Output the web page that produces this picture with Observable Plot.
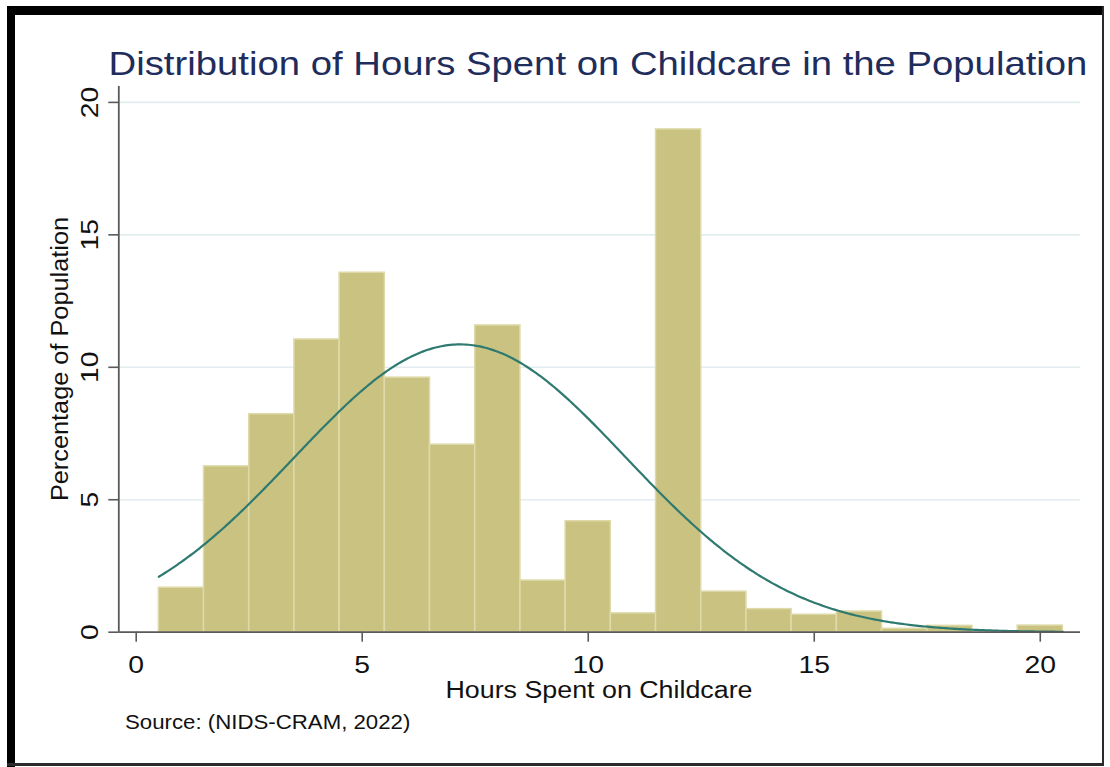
<!DOCTYPE html>
<html>
<head>
<meta charset="utf-8">
<script src="https://cdn.jsdelivr.net/npm/d3@7"></script>
<script src="https://cdn.jsdelivr.net/npm/@observablehq/plot@0.6"></script>
<style>
  html, body { margin: 0; padding: 0; background: #ffffff; }
  #wrap { position: relative; width: 1110px; height: 767px; overflow: hidden;
          font-family: "Liberation Sans", Arial, Helvetica, sans-serif; }
  #chart { position: absolute; left: 0; top: 0; }
  .txt { position: absolute; white-space: nowrap; }
  #title { left: 598px; top: 47px; font-size: 33px; line-height: 33px; color: #1f2d5c;
           transform: translate(-50%, 0) scaleX(1.16); }
  #xtitle { left: 598.5px; top: 679px; font-size: 23px; line-height: 23px; color: #111;
            transform: translate(-50%, 0) scaleX(1.166); }
  #ytitle { left: 60px; top: 358.6px; font-size: 23px; line-height: 23px; color: #111;
            transform: translate(-50%, -50%) rotate(-90deg) scaleX(1.10); }
  #source { left: 125px; top: 713px; font-size: 19.5px; line-height: 19.5px; color: #111;
            transform-origin: left center; transform: scaleX(1.14); }
  .edge { position: absolute; }
</style>
</head>
<body>
<div id="wrap">
  <div id="chart"></div>
  <div class="txt" id="title">Distribution of Hours Spent on Childcare in the Population</div>
  <div class="txt" id="ytitle">Percentage of Population</div>
  <div class="txt" id="xtitle">Hours Spent on Childcare</div>
  <div class="txt" id="source">Source: (NIDS-CRAM, 2022)</div>
  <div class="edge" style="left:7px;top:6px;width:1097px;height:9px;background:#000"></div>
  <div class="edge" style="left:7px;top:6px;width:8px;height:761px;background:#000"></div>
  <div class="edge" style="left:1102px;top:6px;width:2px;height:759px;background:#2b2b2b"></div>
  <div class="edge" style="left:7px;top:763px;width:1097px;height:3px;background:#2b2b2b"></div>
</div>
<script>
// Histogram of weekly childcare hours: one-hour bins centred on each whole hour
const hours   = [1, 2, 3, 4, 5, 6, 7, 8, 9, 10, 11, 12, 13, 14, 15, 16, 17, 18, 19, 20];
const percent = [1.68, 6.26, 8.23, 11.05, 13.57, 9.61, 7.08, 11.58, 1.95, 4.19,
                 0.71, 18.98, 1.53, 0.87, 0.66, 0.78, 0.13, 0.24, 0, 0.25];
const xTicks = [0, 5, 10, 15, 20];
const yTicks = [0, 5, 10, 15, 20];
const binWidth = 1;

const bins = hours.map((h, i) => ({hours: h, pct: percent[i]}));

// Normal density with the same mean and spread as the histogram, scaled to percent per bin
const total = d3.sum(percent);
const mean = d3.sum(bins, d => d.hours * d.pct) / total;
const sd = Math.sqrt(d3.sum(bins, d => d.pct * (d.hours - mean) ** 2) / total);
const lo = hours[0] - binWidth / 2, hi = hours[hours.length - 1] + binWidth / 2;
const normal = d3.range(lo, hi + 1e-9, 0.05).map(x => ({
  x,
  y: 100 * binWidth * Math.exp(-0.5 * ((x - mean) / sd) ** 2) / (sd * Math.sqrt(2 * Math.PI))
}));

const xDomain = [-0.385, 20.89];
const axisColor = "#595959";

const chart = Plot.plot({
  width: 1110,
  height: 767,
  marginLeft: 118.3,
  marginRight: 30,
  marginTop: 86,
  marginBottom: 135.3,
  x: {domain: xDomain},
  y: {domain: [0, 20.6]},
  style: {fontFamily: '"Liberation Sans", Arial, Helvetica, sans-serif', background: "transparent", color: "#111", overflow: "visible"},
  marks: [
    Plot.gridY(yTicks.slice(1), {stroke: "#e3ecef", strokeOpacity: 1, strokeWidth: 1.6}),
    Plot.rect(bins, {
      x1: d => d.hours - binWidth / 2,
      x2: d => d.hours + binWidth / 2,
      y1: 0,
      y2: "pct",
      fill: "#cac281",
      stroke: "#dedaa9",
      strokeWidth: 1.5
    }),
    Plot.line(normal, {x: "x", y: "y", stroke: "#2f7a70", strokeWidth: 2.2}),
    Plot.ruleX([xDomain[0]], {stroke: axisColor, strokeWidth: 1.8}),
    Plot.ruleY([0], {stroke: axisColor, strokeWidth: 1.8}),
    Plot.axisX(xTicks, {tickSize: 10, tickPadding: 14, fontSize: 24, stroke: axisColor, strokeWidth: 1.6, fill: "#111", label: null}),
    Plot.axisY(yTicks, {tickSize: 10, tickPadding: 11, tickRotate: -90, fontSize: 24, stroke: axisColor, strokeWidth: 1.6, fill: "#111", label: null})
  ]
});

// Tick labels are set a little wider than the base face, as in the rest of the figure's text
chart.querySelectorAll('g[aria-label="x-axis tick label"] text, g[aria-label="y-axis tick label"] text').forEach(t => {
  const tr = t.getAttribute("transform") || "";
  t.setAttribute("transform", tr + " scale(1.18,1)");
});

document.getElementById("chart").append(chart);
</script>
</body>
</html>
